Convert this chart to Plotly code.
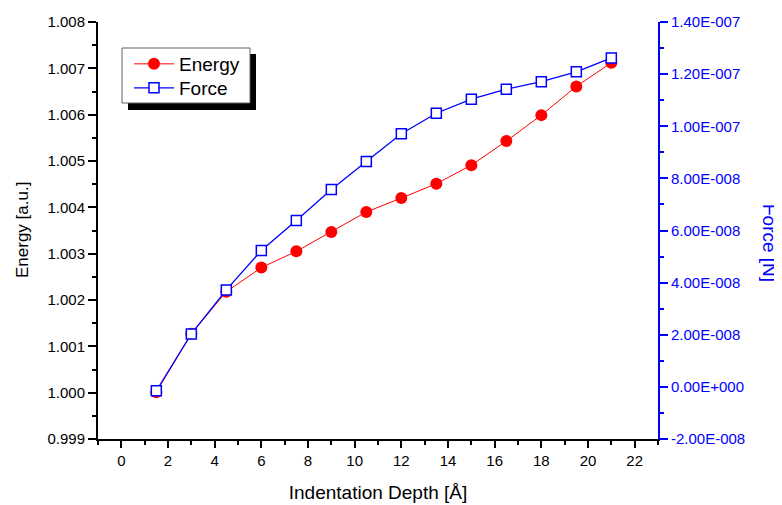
import plotly.graph_objects as go

depth = [1.5, 3.0, 4.5, 6.0, 7.5, 9.0, 10.5, 12.0, 13.5, 15.0, 16.5, 18.0, 19.5, 21.0]
energy = [1.00001, 1.00127, 1.00218, 1.00270, 1.00305, 1.00347, 1.00390, 1.00420,
          1.00451, 1.00491, 1.00543, 1.00599, 1.00661, 1.00712]
force = [-1.5e-9, 2.03e-8, 3.72e-8, 5.23e-8, 6.38e-8, 7.57e-8, 8.65e-8, 9.71e-8,
         1.050e-7, 1.104e-7, 1.142e-7, 1.171e-7, 1.209e-7, 1.262e-7]

force_tick_vals = [-2e-8, 0.0, 2e-8, 4e-8, 6e-8, 8e-8, 1.0e-7, 1.2e-7, 1.4e-7]
force_tick_labels = ["-2.00E-008", "0.00E+000", "2.00E-008", "4.00E-008", "6.00E-008",
                     "8.00E-008", "1.00E-007", "1.20E-007", "1.40E-007"]

FONT = "Arial, Liberation Sans, sans-serif"
BLUE = "#0000ff"

# plot area in screen pixels (page has an 8px body margin)
def px(X):
    return (X - 98) / 560

def py(Y):
    return 1 - (Y - 22) / 417

fig = go.Figure()
fig.add_trace(go.Scatter(
    x=depth, y=energy, name="Energy", mode="lines+markers",
    line=dict(color="#ff0000", width=1),
    marker=dict(symbol="circle", size=12, color="#ff0000"),
    yaxis="y", legend="legend"))
fig.add_trace(go.Scatter(
    x=depth, y=force, name="Force", mode="lines+markers",
    line=dict(color=BLUE, width=1.3),
    marker=dict(symbol="square", size=10, color="white", line=dict(color=BLUE, width=1.5)),
    yaxis="y2", legend="legend2"))

leg_common = dict(xanchor="left", yanchor="middle", bgcolor="rgba(0,0,0,0)",
                  borderwidth=0, font=dict(size=19, family=FONT, color="black"),
                  itemwidth=40)

fig.update_layout(
    width=774, height=497,
    margin=dict(l=90, r=124, t=14, b=66, autoexpand=False),
    paper_bgcolor="white", plot_bgcolor="white",
    font=dict(family=FONT, size=15, color="black"),
    showlegend=True,
    legend=dict(x=px(129), y=py(64), **leg_common),
    legend2=dict(x=px(129), y=py(88), **leg_common),
    xaxis=dict(range=[-1, 23], tick0=0, dtick=2, showgrid=False, zeroline=False,
               automargin=False,
               showline=True, linecolor="black", linewidth=2,
               ticks="outside", ticklen=7, tickwidth=1.5, tickcolor="black",
               minor=dict(ticks="outside", ticklen=4, tickwidth=1.5, dtick=1, tick0=0,
                          tickcolor="black", showgrid=False),
               tickfont=dict(size=15, color="black"),
               title=dict(text="Indentation Depth [Å]", font=dict(size=19), standoff=18)),
    yaxis=dict(range=[0.999, 1.008], tick0=0.999, dtick=0.001, tickformat=".3f",
               showgrid=False, zeroline=False, automargin=False,
               showline=True, linecolor="black", linewidth=2,
               ticks="outside", ticklen=8, tickwidth=1.5, tickcolor="black",
               minor=dict(ticks="outside", ticklen=4, tickwidth=1.5, dtick=0.0005,
                          tick0=0.999, tickcolor="black", showgrid=False),
               tickfont=dict(size=15, color="black")),
    yaxis2=dict(range=[-2e-8, 1.4e-7], overlaying="y", side="right",
                tickmode="array", tickvals=force_tick_vals, ticktext=force_tick_labels,
                showgrid=False, zeroline=False, automargin=False,
                showline=True, linecolor=BLUE, linewidth=2,
                ticks="outside", ticklen=8, tickwidth=1.5, tickcolor=BLUE,
                minor=dict(ticks="outside", ticklen=4, tickwidth=1.5, tickmode="linear",
                           tick0=0, dtick=1e-8, tickcolor=BLUE, showgrid=False),
                tickfont=dict(size=15, color=BLUE)),
    annotations=[
        dict(text="Energy [a.u.]", xref="paper", yref="paper", x=px(22), y=py(230),
             xanchor="center", yanchor="middle", textangle=-90, showarrow=False,
             font=dict(size=17, color="black", family=FONT)),
        dict(text="Force [N]", xref="paper", yref="paper", x=px(770), y=py(243),
             xanchor="center", yanchor="middle", textangle=90, showarrow=False,
             font=dict(size=19, color=BLUE, family=FONT)),
    ],
    shapes=[
        dict(type="rect", xref="paper", yref="paper",
             x0=px(128), x1=px(256), y0=py(110), y1=py(54),
             fillcolor="black", line=dict(width=0), layer="above"),
        dict(type="rect", xref="paper", yref="paper",
             x0=px(122), x1=px(250), y0=py(103), y1=py(48),
             fillcolor="white", line=dict(color="#606060", width=1), layer="above"),
    ],
)

fig.write_html("out.html")
